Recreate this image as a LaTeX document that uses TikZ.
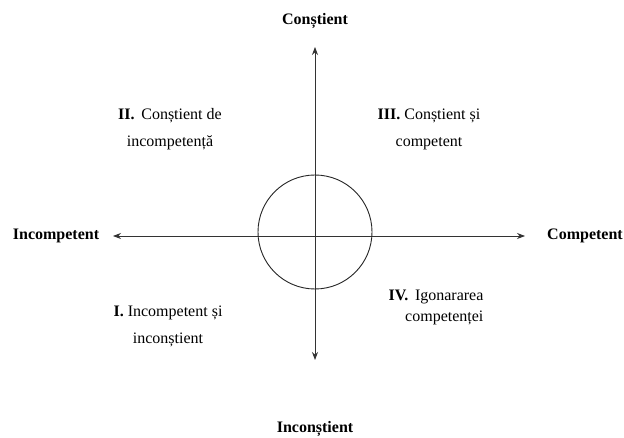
\documentclass[tikz,border=0pt]{standalone}
\usepackage{fontspec}
\setmainfont{Liberation Serif}
\usetikzlibrary{arrows.meta}
\begin{document}
\begin{tikzpicture}[x=1pt,y=-1pt,
  axis/.style={draw=black!80, line width=0.8pt, -{Stealth[length=8pt,width=6pt]}},
  axlabel/.style={font=\fontsize{16}{18}\selectfont\bfseries, inner sep=0pt},
  quad/.style={font=\fontsize{16}{27}\selectfont, align=center, inner sep=0pt}]
\useasboundingbox (0,0) rectangle (624,438);
\fill[white] (0,0) rectangle (624,438);
\coordinate (o) at (315,236);
\node[axlabel] (top) at (315,21) {Conștient};
\node[axlabel] (bot) at (315,429) {Inconștient};
\node[axlabel] (left) at (56,236) {Incompetent};
\node[axlabel] (right) at (585,236) {Competent};
\coordinate (tt) at (315,47);
\coordinate (tb) at (315,360);
\coordinate (tl) at (113,236);
\coordinate (tr) at (525,236);
\draw[axis] (o) -- (tt);
\draw[axis] (o) -- (tb);
\draw[axis] (o) -- (tl);
\draw[axis] (o) -- (tr);
\node[draw=black!85, line width=0.9pt, circle, minimum size=114pt, inner sep=0pt] (c) at (315,232) {};
\node[quad] (q2) at (170,129) {\textbf{II.}\, Conștient de\\incompetență};
\node[quad] (q3) at (429,129) {\textbf{III.} Conștient și\\competent};
\node[quad] (q1) at (168,326) {\textbf{I.} Incompetent și\\inconștient};
\node[quad, align=right, font=\fontsize{16}{21}\selectfont] (q4) at (436,307) {\textbf{IV.}\, Igonararea\\competenței};
\end{tikzpicture}
\end{document}
